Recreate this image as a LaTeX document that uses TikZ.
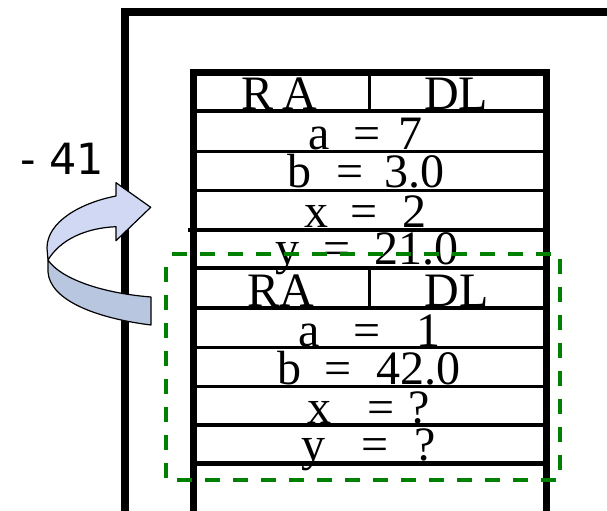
\documentclass[tikz,border=0pt]{standalone}
\usepackage{fontspec}
\setmainfont{Liberation Serif}
\newfontfamily\labelsans{DejaVu Sans}
\definecolor{dashgreen}{RGB}{0,128,0}
\definecolor{ribbonfront}{RGB}{208,216,244}
\definecolor{ribbonback}{RGB}{184,198,224}
\begin{document}
\begin{tikzpicture}[x=1bp,y=-1bp,
  outerframe/.style={line width=8bp, line join=miter},
  innerframe/.style={line width=6.5bp, line join=miter},
  rowline/.style={line width=3.8bp},
  divline/.style={line width=3bp},
  txt/.style={anchor=base, inner sep=0pt, outer sep=0pt, font=\fontsize{48bp}{50bp}\selectfont},
  sidelabel/.style={anchor=base west, inner sep=0pt, outer sep=0pt, font=\labelsans\fontsize{43bp}{45bp}\selectfont},
  ribbon/.style={draw=black, line width=1.2bp, line join=round},
  scopebox/.style={draw=dashgreen, line width=4bp, dash pattern=on 15bp off 13bp, dash phase=15bp}
]
\useasboundingbox (0,0) rectangle (607,511);
\fill[white] (0,0) rectangle (607,511);

% outer frame
\draw[outerframe] (124.5,511) -- (124.5,12) -- (607,12);
% inner stack frame
\draw[innerframe] (193.3,511) -- (193.3,72.5) -- (546.3,72.5) -- (546.3,511);

% row separators
\foreach \yy in {111,151.5,190.5,268,308,347.5,386.5,425.3}
  \draw[rowline] (196.5,\yy) -- (543,\yy);
\draw[rowline] (188,230) -- (543,230);
\draw[line width=5bp] (196.5,463) -- (543,463);

% RA | DL dividers
\draw[divline] (369.5,74) -- (369.5,111);
\draw[divline] (369.5,268) -- (369.5,308);

% first activation record
\node[txt] (r1R) at (257.5,110) {R};
\node[txt] (r1A) at (299.5,110) {A};
\node[txt] (r1DL) at (456,110) {DL};
\node[txt] (r2a) at (319.5,150) {a};
\node[txt] (r2eq) at (367.5,150) {=};
\node[txt] (r2v) at (410.5,150) {7};
\node[txt] (r3b) at (299.5,188) {b};
\node[txt] (r3eq) at (350.5,188) {=};
\node[txt] (r3v) at (414,188) {3.0};
\node[txt] (r4x) at (316.5,228) {x};
\node[txt] (r4eq) at (364.5,228) {=};
\node[txt] (r4v) at (414.5,228) {2};
\node[txt] (r5y) at (287.5,264) {y};
\node[txt] (r5eq) at (337.5,264) {=};
\node[txt] (r5v) at (416,264) {21.0};

% second activation record
\node[txt] (s1RA) at (280.5,306.5) {RA};
\node[txt] (s1DL) at (456.5,306.5) {DL};
\node[txt] (s2a) at (309,346) {a};
\node[txt] (s2eq) at (367.5,346) {=};
\node[txt] (s2v) at (428,346) {1};
\node[txt] (s3b) at (289,384) {b};
\node[txt] (s3eq) at (338.5,384) {=};
\node[txt] (s3v) at (418.5,384) {42.0};
\node[txt] (s4x) at (319.5,423) {x};
\node[txt] (s4eq) at (381.5,423) {=};
\node[txt] (s4v) at (419.5,423) {?};
\node[txt] (s5y) at (313,460) {y};
\node[txt] (s5eq) at (375,460) {=};
\node[txt] (s5v) at (425.5,460) {?};

% return address label
\node[sidelabel] (ret) at (20,175) {- 41};

% curved return arrow: back part of the ribbon
\path[ribbon, fill=ribbonback]
  (48,260) -- (48,272) .. controls (50,300) and (95,318) .. (151,325)
  -- (151,297) .. controls (100,293) and (60,278) .. (48,260) -- cycle;
% front part with arrow head
\path[ribbon, fill=ribbonfront]
  (48,260) .. controls (60,240) and (85,228) .. (116,226.7)
  -- (116,240.7) -- (150.7,207.3) -- (116,182.7) -- (116,196)
  .. controls (80,203) and (47,222) .. (47,248) -- cycle;

% dashed green scope
\draw[scopebox] (166,254) rectangle (559.5,479.7);
\end{tikzpicture}
\end{document}
